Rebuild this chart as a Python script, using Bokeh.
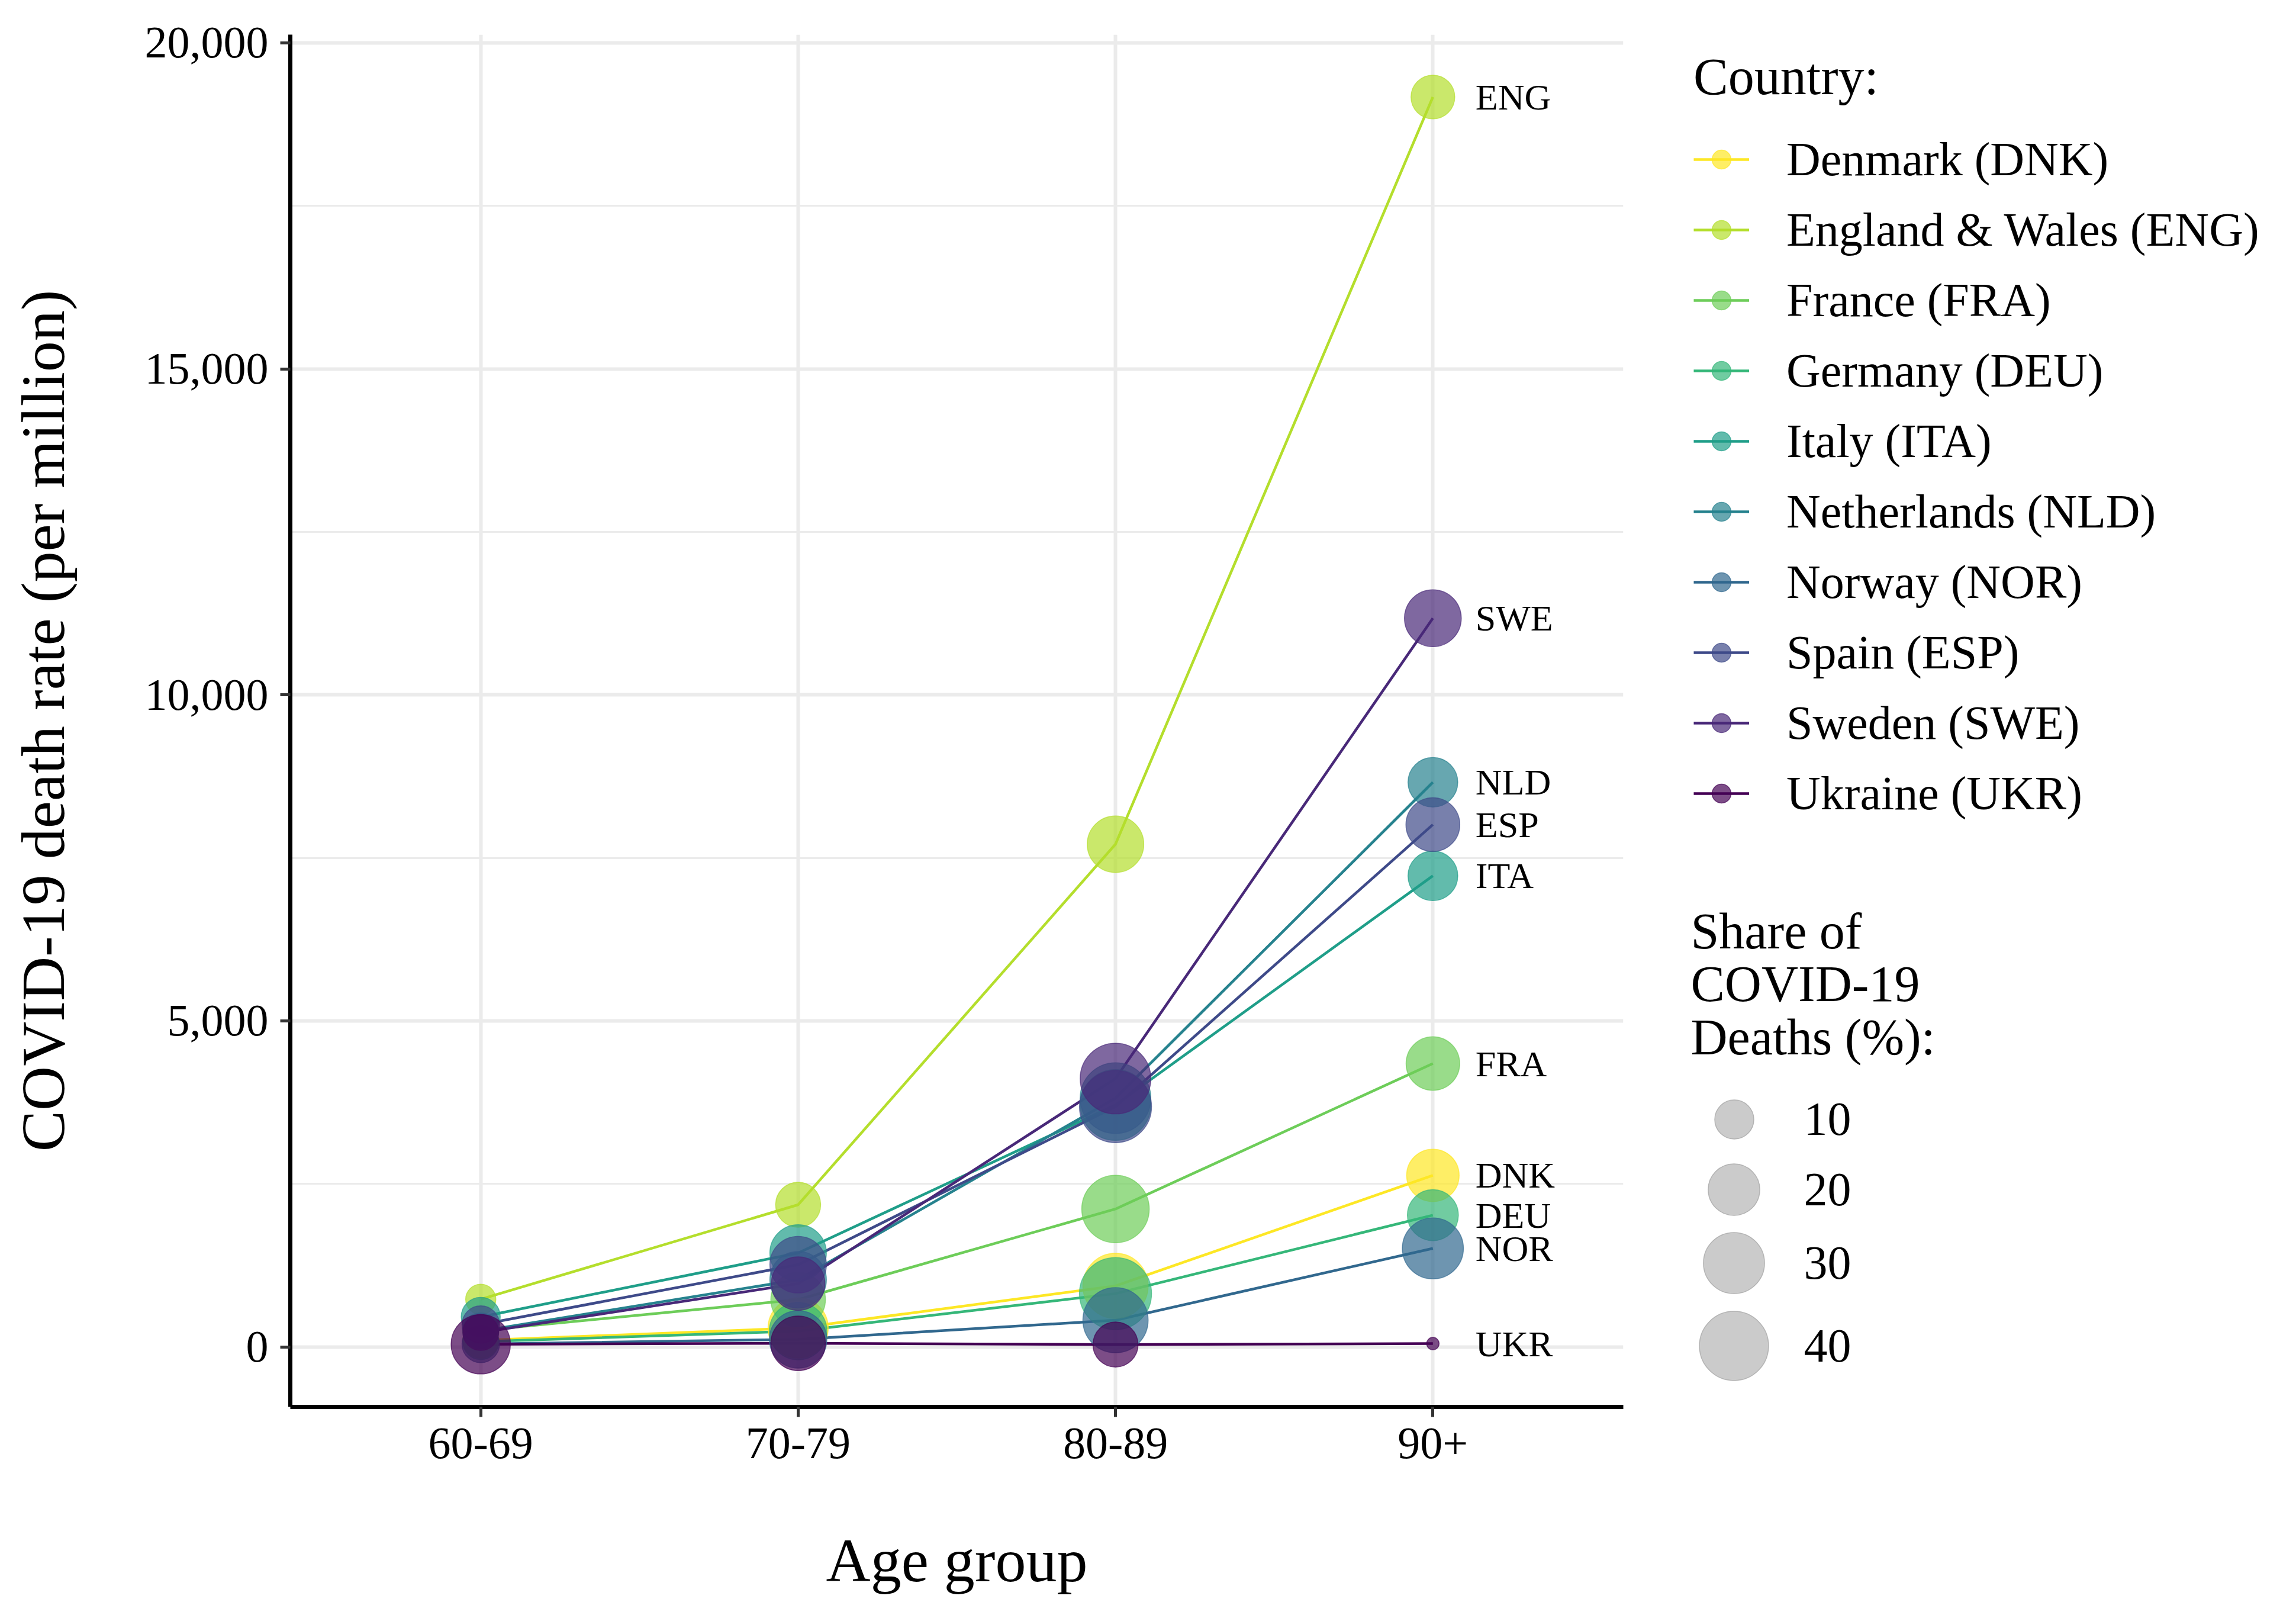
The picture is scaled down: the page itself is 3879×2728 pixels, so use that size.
import numpy as np
from bokeh.plotting import figure
from bokeh.layouts import row
from bokeh.models import (ColumnDataSource, FactorRange, Range1d, FixedTicker,
                          NumeralTickFormatter, Legend, LegendItem, Label)
from bokeh.embed import file_html
from bokeh.resources import INLINE
from bokeh.core.properties import value

# ---------------- data ----------------
AGE_GROUPS = ["60-69", "70-79", "80-89", "90+"]
COUNTRIES = ["Denmark (DNK)", "England & Wales (ENG)", "France (FRA)", "Germany (DEU)",
             "Italy (ITA)", "Netherlands (NLD)", "Norway (NOR)", "Spain (ESP)",
             "Sweden (SWE)", "Ukraine (UKR)"]
CODES = ["DNK", "ENG", "FRA", "DEU", "ITA", "NLD", "NOR", "ESP", "SWE", "UKR"]
COLORS = ["#FDE725", "#B4DE2C", "#6DCD59", "#35B779", "#1F9E89",
          "#26828E", "#31688E", "#3E4A89", "#482878", "#440154"]

# COVID-19 death rate per million, by age group
RATE_DNK = [100, 290, 935, 2630]
RATE_ENG = [730, 2180, 7710, 19170]
RATE_FRA = [250, 725, 2115, 4345]
RATE_DEU = [80, 242, 817, 2020]
RATE_ITA = [460, 1440, 3710, 7225]
RATE_NLD = [242, 1030, 3815, 8660]
RATE_NOR = [45, 115, 410, 1510]
RATE_ESP = [342, 1260, 3685, 8010]
RATE_SWE = [221, 970, 4115, 11176]
RATE_UKR = [40, 55, 36, 50]

# share of the country's COVID-19 deaths (%), by age group
SHARE_DNK = [8, 29, 35, 21]
SHARE_ENG = [5, 14.4, 25, 13.4]
SHARE_FRA = [8, 23, 37.8, 22]
SHARE_DEU = [8, 26, 44, 19.5]
SHARE_ITA = [10, 25, 42, 18.4]
SHARE_NLD = [8, 25, 42, 18.4]
SHARE_NOR = [9, 26, 35, 30]
SHARE_ESP = [9, 25, 44, 22.3]
SHARE_SWE = [8, 22, 42, 25.3]
SHARE_UKR = [28, 23, 14.4, 0.14]

RATES = [RATE_DNK, RATE_ENG, RATE_FRA, RATE_DEU, RATE_ITA,
         RATE_NLD, RATE_NOR, RATE_ESP, RATE_SWE, RATE_UKR]
SHARES = [SHARE_DNK, SHARE_ENG, SHARE_FRA, SHARE_DEU, SHARE_ITA,
          SHARE_NLD, SHARE_NOR, SHARE_ESP, SHARE_SWE, SHARE_UKR]

Y_TICKS = [0, 5000, 10000, 15000, 20000]
Y_MINOR = [2500, 7500, 12500, 17500]
SIZE_BREAKS = [10, 20, 30, 40]
SIZE_TITLE = ["Share of", "COVID-19", "Deaths (%):"]


def size_px(share):
    """area-style size scale: diameter grows with sqrt(share)"""
    return 15.0 + 16.1 * np.sqrt(np.asarray(share, dtype=float))


# ---------------- layout constants ----------------
FONT = "Liberation Serif"
W, H = 3860, 2710
P1W = 2778                               # width of main plot; legend figure to its right
FL, FR, FT, FB = 490, 2742, 58, 2376     # frame edges (px)
P2W = W - P1W

all_rates = np.concatenate([np.asarray(r, float) for r in RATES])
span = all_rates.max() - all_rates.min()
ymin = all_rates.min() - 0.05 * span
ymax = all_rates.max() + 0.05 * span

p = figure(width=P1W, height=H,
           x_range=FactorRange(factors=AGE_GROUPS, range_padding=0.1,
                               range_padding_units="absolute"),
           y_range=Range1d(ymin, ymax),
           output_backend="svg", toolbar_location=None,
           min_border_left=FL, min_border_right=P1W - FR,
           min_border_top=FT, min_border_bottom=H - FB)
p.outline_line_color = None
p.background_fill_color = "white"
p.border_fill_color = "white"

yticker = FixedTicker(ticks=Y_TICKS, minor_ticks=Y_MINOR)
p.yaxis.ticker = yticker
p.ygrid.ticker = yticker
p.yaxis.formatter = NumeralTickFormatter(format="0,0")

for ax in (p.xaxis[0], p.yaxis[0]):
    ax.axis_line_color = "black"
    ax.axis_line_width = 7
    ax.major_tick_line_color = "#333333"
    ax.major_tick_line_width = 5
    ax.major_tick_out = 17
    ax.major_tick_in = 0
    ax.minor_tick_line_color = None
    ax.major_label_text_font = FONT
    ax.major_label_text_font_size = "76px"
    ax.major_label_text_color = "black"
    ax.axis_label_text_font = FONT
    ax.axis_label_text_font_size = "104px"
    ax.axis_label_text_font_style = "normal"
    ax.axis_label_text_color = "black"

p.xaxis.axis_label = "Age group"
p.yaxis.axis_label = "COVID-19 death rate (per million)"
p.xaxis.major_label_standoff = 19
p.xaxis.axis_label_standoff = 112
p.yaxis.major_label_standoff = 20
p.yaxis.axis_label_standoff = 112

p.xgrid.grid_line_color = "#EBEBEB"
p.xgrid.grid_line_width = 6
p.ygrid.grid_line_color = "#EBEBEB"
p.ygrid.grid_line_width = 6
p.ygrid.minor_grid_line_color = "#EBEBEB"
p.ygrid.minor_grid_line_width = 3

LINE_W = 4.5
PT_ALPHA = 0.7

# ---------------- series ----------------
sources = []
for i, code in enumerate(CODES):
    src = ColumnDataSource(dict(age=AGE_GROUPS, rate=RATES[i], share=SHARES[i],
                                size=size_px(SHARES[i])))
    sources.append(src)
    p.line("age", "rate", source=src, line_color=COLORS[i], line_width=LINE_W)

for i, code in enumerate(CODES):
    p.scatter("age", "rate", size="size", source=sources[i], marker="circle",
              fill_color=COLORS[i], fill_alpha=PT_ALPHA,
              line_color=COLORS[i], line_alpha=0.7, line_width=1.5)

# end labels at 90+
lab_src = ColumnDataSource(dict(x=[AGE_GROUPS[-1]] * len(CODES),
                                y=[r[-1] for r in RATES], text=CODES))
p.text("x", "y", text="text", source=lab_src, x_offset=72,
       text_font=value(FONT), text_font_size="62px", text_color="black",
       text_align="left", text_baseline="middle")

# ---------------- legend panel (second figure, frame aligned with main plot) ----------------
q = figure(width=P2W, height=H, x_range=Range1d(0, 1), y_range=Range1d(0, 1),
           x_axis_type=None, y_axis_type=None, output_backend="svg", toolbar_location=None,
           min_border=0, min_border_left=0, min_border_right=0,
           min_border_top=0, min_border_bottom=0)
q.outline_line_color = None
q.background_fill_color = "white"
q.border_fill_color = "white"

items = []
for i, name in enumerate(COUNTRIES):
    dsrc = ColumnDataSource(dict(x=[np.nan], y=[np.nan]))
    lr = q.line("x", "y", source=dsrc, line_color=COLORS[i], line_width=LINE_W)
    sr = q.scatter("x", "y", source=dsrc, marker="circle", size=20,
                   fill_color=COLORS[i], fill_alpha=PT_ALPHA,
                   line_color=COLORS[i], line_alpha=0.7, line_width=1.5)
    items.append(LegendItem(label=name, renderers=[lr, sr]))

TITLE_H, TITLE_SO, ROW_H, ROW_SP = 99, 43, 92, 27
LEG_H = TITLE_H + TITLE_SO + len(COUNTRIES) * ROW_H + (len(COUNTRIES) - 1) * ROW_SP
LEG_TOP = 81
leg = Legend(items=items, location=(83, FB - (LEG_TOP + LEG_H)),
             title="Country:", title_text_font=FONT, title_text_font_size="88px",
             title_text_font_style="normal", title_text_color="black",
             title_standoff=TITLE_SO,
             label_text_font=FONT, label_text_font_size="80px", label_text_color="black",
             glyph_width=94, glyph_height=80, label_height=ROW_H, spacing=ROW_SP,
             label_standoff=63, padding=0, margin=0,
             border_line_color=None, background_fill_alpha=0)
q.add_layout(leg, "center")

# size legend: title, keys and labels
TITLE_BASELINES = [1604, 1693.5, 1783]
for txt, base in zip(SIZE_TITLE, TITLE_BASELINES):
    q.add_layout(Label(x=2856 - P1W, y=FB - (base - 32), x_units="screen", y_units="screen",
                       text=txt, text_font=FONT, text_font_size="86px", text_color="black",
                       text_baseline="middle", text_align="left"), "center")

size_src = ColumnDataSource(dict(x=[np.nan], y=[np.nan]))
size_r = q.scatter("x", "y", source=size_src, marker="circle", size=20,
                   fill_color="#BEBEBE", fill_alpha=0.8, line_color="#A8A8A8", line_alpha=0.8,
                   line_width=1.5)
CX = 2929 - P1W
CY = [1890, 2009, 2133, 2273]
LABEL_X = 3047 - P1W
for k, v in enumerate(SIZE_BREAKS):
    d = float(size_px(v))
    box = int(round(2.5 * d))       # legend marker diameter = 0.4 * glyph box
    sl = Legend(items=[LegendItem(label=" ", renderers=[size_r])],
                location=(CX - box / 2, FB - (CY[k] + box / 2)),
                label_text_font=FONT, label_text_font_size="80px",
                glyph_width=box, glyph_height=box, label_height=box,
                label_standoff=0, padding=0, margin=0, spacing=0,
                border_line_color=None, background_fill_alpha=0)
    q.add_layout(sl, "center")
    q.add_layout(Label(x=LABEL_X, y=FB - CY[k], x_units="screen", y_units="screen",
                       text=str(v), text_font=FONT, text_font_size="80px", text_color="black",
                       text_baseline="middle", text_align="left"), "center")

layout = row(p, q)
open("out.html", "w").write(file_html(layout, INLINE))
